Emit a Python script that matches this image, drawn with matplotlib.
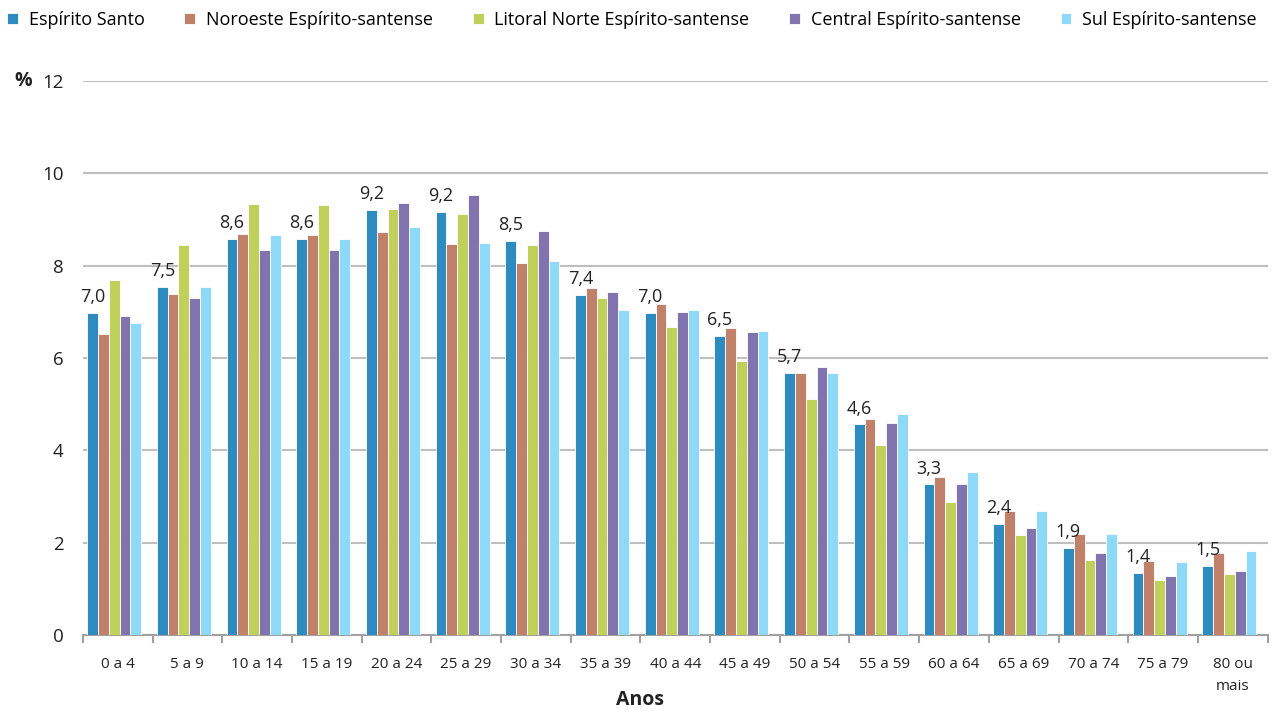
import matplotlib
matplotlib.use("Agg")
import matplotlib.pyplot as plt
import numpy as np

plt.rcParams['font.family'] = ['Open Sans', 'DejaVu Sans']

faixas = ['0 a 4', '5 a 9', '10 a 14', '15 a 19', '20 a 24', '25 a 29', '30 a 34',
          '35 a 39', '40 a 44', '45 a 49', '50 a 54', '55 a 59', '60 a 64',
          '65 a 69', '70 a 74', '75 a 79', '80 ou\nmais']

es = [6.97, 7.53, 8.58, 8.58, 9.20, 9.17, 8.53, 7.36, 6.97, 6.48, 5.67, 4.56, 3.26, 2.40, 1.88, 1.35, 1.49]
noroeste = [6.53, 7.39, 8.69, 8.66, 8.73, 8.48, 8.06, 7.51, 7.17, 6.64, 5.67, 4.68, 3.43, 2.69, 2.18, 1.60, 1.77]
litoral = [7.70, 8.45, 9.33, 9.31, 9.23, 9.12, 8.45, 7.31, 6.67, 5.93, 5.12, 4.12, 2.88, 2.16, 1.62, 1.18, 1.32]
central = [6.90, 7.31, 8.34, 8.34, 9.36, 9.53, 8.75, 7.42, 7.00, 6.56, 5.81, 4.59, 3.26, 2.32, 1.77, 1.27, 1.38]
sul = [6.75, 7.53, 8.66, 8.58, 8.84, 8.50, 8.11, 7.03, 7.03, 6.58, 5.67, 4.79, 3.54, 2.69, 2.18, 1.57, 1.82]
rotulos = ['7,0', '7,5', '8,6', '8,6', '9,2', '9,2', '8,5', '7,4', '7,0', '6,5',
           '5,7', '4,6', '3,3', '2,4', '1,9', '1,4', '1,5']

series = [('Espírito Santo', es, '#2E8BC0'),
          ('Noroeste Espírito-santense', noroeste, '#C0806A'),
          ('Litoral Norte Espírito-santense', litoral, '#BFD15A'),
          ('Central Espírito-santense', central, '#8073AE'),
          ('Sul Espírito-santense', sul, '#8ED8F8')]

fig = plt.figure(figsize=(12.74, 7.11), dpi=100)
ax = fig.add_axes([0.065, 0.107, 0.93, 0.779])

x = np.arange(len(faixas))
w = 0.155
for i, (nome, vals, cor) in enumerate(series):
    pos = x - 0.05 + (i - 2) * w
    bars = ax.bar(pos, vals, w, color=cor, edgecolor='white', linewidth=0.6, label=nome, zorder=3)
    if i == 0:
        for b, t in zip(bars, rotulos):
            ax.text(b.get_x() + b.get_width() / 2, b.get_height() + 0.15, t,
                    ha='center', va='bottom', fontsize=13, color='#222222', zorder=4)

ax.set_xlim(-0.5, len(faixas) - 0.5)
ax.set_ylim(0, 12)
ax.set_yticks(range(0, 13, 2))
ax.grid(axis='y', color='#BEBEBE', linewidth=1.5, zorder=0)
ax.tick_params(axis='y', length=0, pad=14, labelsize=13.5, labelcolor='#222222')
ax.set_xticks(x)
ax.set_xticklabels(faixas, fontsize=11, color='#222222', linespacing=1.6, va='top')
ax.tick_params(axis='x', which='major', length=0, pad=16)
ax.set_xticks(np.arange(-0.5, len(faixas), 1), minor=True)
ax.tick_params(axis='x', which='minor', length=6, width=1.5, color='#A0A0A0')
for s in ['top', 'right', 'left']:
    ax.spines[s].set_visible(False)
ax.spines['bottom'].set_color('#A0A0A0')
ax.spines['bottom'].set_linewidth(1.5)

fig.text(0.502, 0.016, 'Anos', fontsize=14, fontweight='bold', color='#222222',
         ha='center', va='center')
fig.text(0.011, 0.886, '%', fontsize=14, fontweight='bold', color='#222222', va='center')

ax.legend(loc='upper left', bbox_to_anchor=(-0.07, 1.14), ncol=5, frameon=False,
          fontsize=13, handlelength=0.6, handleheight=0.6, handletextpad=0.6,
          columnspacing=2.2, borderaxespad=0)

plt.savefig('out.png', dpi=100, facecolor='white')
